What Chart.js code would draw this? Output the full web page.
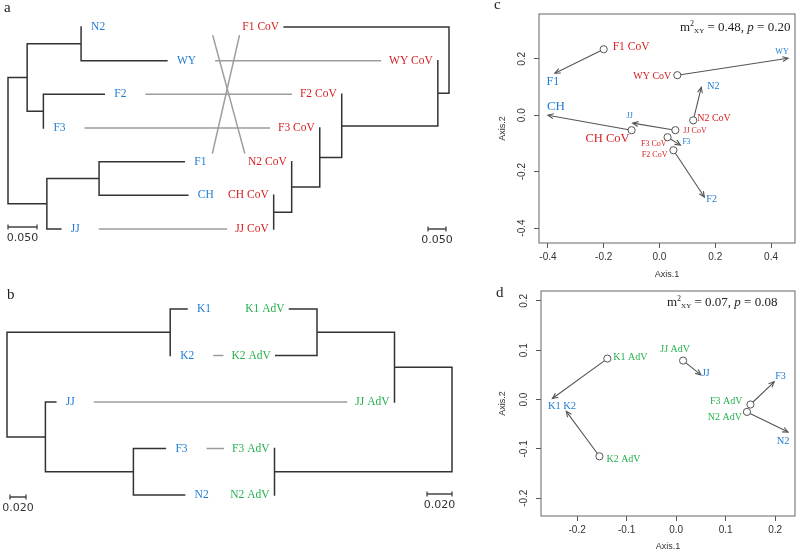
<!DOCTYPE html>
<html>
<head>
<meta charset="utf-8">
<script src="https://cdn.jsdelivr.net/npm/chart.js@4.4.0/dist/chart.umd.min.js"></script>
<style>
  body { margin: 0; background: #fff; width: 800px; height: 553px; position: relative; overflow: hidden; }
  canvas { position: absolute; }
</style>
</head>
<body>
<canvas id="panelA" width="490" height="270" style="left:0;top:0"></canvas>
<canvas id="panelB" width="490" height="283" style="left:0;top:270px"></canvas>
<canvas id="panelC" width="310" height="282" style="left:490px;top:0"></canvas>
<canvas id="panelD" width="310" height="271" style="left:490px;top:282px"></canvas>
<script>
// ---------- data ----------
// panel a: host tree (left) and CoV tree (right), edges = [parent, child, branch length]
const tipsA1 = ['N2', 'WY', 'F2', 'F3', 'F1', 'CH', 'JJ'];
const edgesA1 = [
  ['r', 'a', 0.033], ['a', 'nw', 0.093], ['nw', 'N2', 0], ['nw', 'WY', 0.148],
  ['a', 'ff', 0.028], ['ff', 'F2', 0.105], ['ff', 'F3', 0],
  ['r', 'b', 0.067], ['b', 'fc', 0.090], ['fc', 'F1', 0.147], ['fc', 'CH', 0.153], ['b', 'JJ', 0.024]
];
const tipsA2 = ['F1 CoV', 'WY CoV', 'F2 CoV', 'F3 CoV', 'N2 CoV', 'CH CoV', 'JJ CoV'];
const edgesA2 = [
  ['r', 'F1 CoV', 0.458], ['r', 'w', 0.031], ['w', 'WY CoV', 0], ['w', 'p', 0.267],
  ['p', 'F2 CoV', 0], ['p', 'q', 0.061], ['q', 'F3 CoV', 0], ['q', 's', 0.078],
  ['s', 'N2 CoV', 0], ['s', 't', 0.050], ['t', 'CH CoV', 0], ['t', 'JJ CoV', 0]
];
const linksA = [['N2', 'N2 CoV'], ['WY', 'WY CoV'], ['F2', 'F2 CoV'], ['F3', 'F3 CoV'],
  ['F1', 'F1 CoV'], ['CH', 'CH CoV'], ['JJ', 'JJ CoV']];
const scaleBarA = 0.05;

// panel b: host tree and AdV tree
const tipsB1 = ['K1', 'K2', 'JJ', 'F3', 'N2'];
const edgesB1 = [
  ['r', 'k', 0.204], ['k', 'K1', 0.021], ['k', 'K2', 0],
  ['r', 'b', 0.048], ['b', 'JJ', 0.013], ['b', 'fn', 0.110], ['fn', 'F3', 0.040], ['fn', 'N2', 0.064]
];
const tipsB2 = ['K1 AdV', 'K2 AdV', 'JJ AdV', 'F3 AdV', 'N2 AdV'];
const edgesB2 = [
  ['r', 'kj', 0.046], ['kj', 'k', 0.062], ['k', 'K1 AdV', 0.022], ['k', 'K2 AdV', 0.033],
  ['kj', 'JJ AdV', 0], ['r', 'fn', 0.142], ['fn', 'F3 AdV', 0], ['fn', 'N2 AdV', 0]
];
const linksB = [['K1', 'K1 AdV'], ['K2', 'K2 AdV'], ['JJ', 'JJ AdV'], ['F3', 'F3 AdV'], ['N2', 'N2 AdV']];
const scaleBarB = 0.02;

// panel c: Procrustes, CoV (circles) -> host (arrow heads)
const hostsC = ['F1', 'WY', 'N2', 'CH', 'JJ', 'F3', 'F2'];
const virusesC = ['F1 CoV', 'WY CoV', 'N2 CoV', 'CH CoV', 'JJ CoV', 'F3 CoV', 'F2 CoV'];
const virusXC = [-0.200, 0.064, 0.121, -0.100, 0.057, 0.029, 0.050];
const virusYC = [0.234, 0.142, -0.018, -0.053, -0.053, -0.078, -0.124];
const hostXC = [-0.375, 0.461, 0.150, -0.400, -0.096, 0.075, 0.161];
const hostYC = [0.149, 0.202, 0.099, 0.000, -0.028, -0.106, -0.290];
const xTicksC = [-0.4, -0.2, 0, 0.2, 0.4];
const yTicksC = [-0.4, -0.2, 0, 0.2];
const statC = [0.48, 0.20];

// panel d: Procrustes, AdV (circles) -> host
const hostsD = ['K1', 'K2', 'JJ', 'F3', 'N2'];
const virusesD = ['K1 AdV', 'K2 AdV', 'JJ AdV', 'F3 AdV', 'N2 AdV'];
const virusXD = [-0.139, -0.155, 0.014, 0.150, 0.143];
const virusYD = [0.083, -0.115, 0.079, -0.010, -0.025];
const hostXD = [-0.250, -0.222, 0.050, 0.198, 0.226];
const hostYD = [0.002, -0.024, 0.050, 0.036, -0.066];
const xTicksD = [-0.2, -0.1, 0, 0.1, 0.2];
const yTicksD = [-0.2, -0.1, 0, 0.1, 0.2];
const statD = [0.07, 0.08];

// ---------- styles ----------
const BLUE = '#1f7bd2', RED = '#d61f1f', GREEN = '#25b04e';
const SERIF = '"Liberation Serif", serif';
Chart.defaults.font.family = '"Liberation Sans", sans-serif';

// label placement [align, dx, dy, size]
const virusLblC = [['l', 9, -2, 11.5], ['r', -6, 1, 10], ['l', 4, -2, 10], ['r', -2, 9, 12.5],
  ['l', 8, 1, 8], ['r', -1, 7, 8], ['r', -6, 5, 8]];
const hostLblC = [['c', -2, 9, 12], ['c', -6, -6, 8], ['l', 6, -1, 10], ['l', -1, -9, 13],
  ['c', -3, -7, 8], ['l', 2, -3, 7.5], ['l', 2, 2, 10]];
const virusLblD = [['l', 6, -1, 10], ['l', 7, 3, 10], ['c', -8, -11, 10], ['r', -8, -3, 10], ['r', -5, 5, 10]];
const hostLblD = [['c', 2, 8, 10.5], ['l', -3, -5, 10.5], ['l', 1, -2, 10], ['l', 1, -5, 10], ['c', -5, 9, 10.5]];

// ---------- tree helpers ----------
function layoutTree(edges, tips) {
  const kids = {}, len = {}, hasParent = {};
  edges.forEach(e => {
    (kids[e[0]] = kids[e[0]] || []).push(e[1]);
    len[e[1]] = e[2];
    hasParent[e[1]] = true;
  });
  const root = edges.find(e => !hasParent[e[0]])[0];
  const x = {}, y = {};
  (function walk(n, d) {
    x[n] = d;
    if (kids[n]) {
      kids[n].forEach(c => walk(c, d + len[c]));
      y[n] = kids[n].reduce((s, c) => s + y[c], 0) / kids[n].length;
    } else {
      y[n] = tips.indexOf(n);
    }
  })(root, 0);
  const segs = [];
  Object.keys(kids).forEach(n => {
    const ys = kids[n].map(c => y[c]);
    segs.push({x: x[n], y: Math.min(...ys)}, {x: x[n], y: Math.max(...ys)}, {x: x[n], y: null});
    kids[n].forEach(c => segs.push({x: x[n], y: y[c]}, {x: x[c], y: y[c]}, {x: x[c], y: null}));
  });
  return {tips, x, y, segs};
}

// pixel mapping of a hidden axis: where the root sits and how many px per unit
function axisRange(rootPx, pxPerUnit, sizePx, reverse) {
  if (reverse) return {min: (rootPx - sizePx) / pxPerUnit, max: rootPx / pxPerUnit, reverse: true};
  return {min: -rootPx / pxPerUnit, max: (sizePx - rootPx) / pxPerUnit};
}

function scaleBar(ctx, x1, x2, y, label) {
  ctx.strokeStyle = '#444';
  ctx.lineWidth = 1.3;
  ctx.beginPath();
  ctx.moveTo(x1, y); ctx.lineTo(x2, y);
  ctx.moveTo(x1, y - 2.5); ctx.lineTo(x1, y + 2.5);
  ctx.moveTo(x2, y - 2.5); ctx.lineTo(x2, y + 2.5);
  ctx.stroke();
  ctx.fillStyle = '#333';
  ctx.font = '11px "DejaVu Sans"';
  ctx.textAlign = 'center';
  ctx.textBaseline = 'middle';
  ctx.fillText(label, (x1 + x2) / 2, y + 11);
}

function letter(ctx, t, x, y) {
  ctx.fillStyle = '#222';
  ctx.font = '15px ' + SERIF;
  ctx.textAlign = 'left';
  ctx.textBaseline = 'middle';
  ctx.fillText(t, x, y);
}

const treePlugin = {
  id: 'tree',
  afterDatasetsDraw(chart, args, o) {
    const ctx = chart.ctx, sy = chart.scales.y, sl = chart.scales.xl, sr = chart.scales.xr;
    ctx.save();
    ctx.font = '11.5px ' + SERIF;
    ctx.textBaseline = 'middle';
    const lEnd = {}, rStart = {};
    o.left.tips.forEach((t, i) => {
      const px = sl.getPixelForValue(o.left.x[t]) + 10, py = sy.getPixelForValue(i);
      ctx.fillStyle = o.leftColor;
      ctx.textAlign = 'left';
      ctx.fillText(t, px, py);
      lEnd[t] = [px + ctx.measureText(t).width, py, i];
    });
    o.right.tips.forEach((t, i) => {
      const px = sr.getPixelForValue(o.right.x[t]) - 5, py = sy.getPixelForValue(i);
      ctx.fillStyle = o.rightColor;
      ctx.textAlign = 'right';
      ctx.fillText(t, px, py);
      rStart[t] = [px - ctx.measureText(t).width, py, i];
    });

    ctx.strokeStyle = '#9c9c9c';
    ctx.lineWidth = 1.5;
    o.links.forEach(([a, b]) => {
      const L = lEnd[a], R = rStart[b];
      let x1, x2, y1 = L[1], y2 = R[1];
      if (L[2] === R[2]) {
        x1 = L[0] + 19; x2 = R[0] - 8;
        if (x2 - x1 < 8) return;
      } else {
        const lo = Math.min(L[2], R[2]), hi = Math.max(L[2], R[2]);
        const s = Math.max(...o.left.tips.slice(lo, hi + 1).map(t => lEnd[t][0])) + 4;
        const e = R[0] - 1, f = 0.06, dx = e - s, dy = y2 - y1;
        x1 = s + f * dx; x2 = e - f * dx;
        const ya = y1 + f * dy; y2 = y2 - f * dy; y1 = ya;
      }
      ctx.beginPath();
      ctx.moveTo(x1, y1);
      ctx.lineTo(x2, y2);
      ctx.stroke();
    });

    const lastL = sy.getPixelForValue(o.left.tips.length - 1);
    const bl = o.barL, br = o.barR;
    scaleBar(ctx, sl.getPixelForValue(0) + bl[0], sl.getPixelForValue(o.bar) + bl[0], lastL + bl[1], o.bar.toFixed(3));
    scaleBar(ctx, sr.getPixelForValue(o.bar) + br[0], sr.getPixelForValue(0) + br[0], lastL + br[1], o.bar.toFixed(3));
    letter(ctx, o.letter[0], o.letter[1], o.letter[2]);
    ctx.restore();
  }
};

function treeChart(id, left, right, ranges, opts) {
  const line = {showLine: true, pointRadius: 0, borderColor: '#333', borderWidth: 1.5,
    borderCapStyle: 'square', tension: 0, spanGaps: false, yAxisID: 'y'};
  return new Chart(document.getElementById(id), {
    type: 'scatter',
    data: {datasets: [
      Object.assign({data: left.segs, xAxisID: 'xl'}, line),
      Object.assign({data: right.segs, xAxisID: 'xr'}, line)
    ]},
    options: {
      responsive: false, animation: false, events: [],
      layout: {padding: 0},
      plugins: {legend: {display: false}, tooltip: {enabled: false}, tree: Object.assign({left, right}, opts)},
      scales: {
        xl: Object.assign({type: 'linear', display: false}, ranges.xl),
        xr: Object.assign({type: 'linear', display: false}, ranges.xr),
        y: Object.assign({type: 'linear', display: false}, ranges.y)
      }
    },
    plugins: [treePlugin]
  });
}

// ---------- panel a ----------
treeChart('panelA', layoutTree(edgesA1, tipsA1), layoutTree(edgesA2, tipsA2), {
  xl: axisRange(8, 580, 490, false),
  xr: axisRange(449, 360, 490, true),
  y: {min: -27 / 33.67, max: (270 - 27) / 33.67, reverse: true}
}, {links: linksA, leftColor: BLUE, rightColor: RED, bar: scaleBarA,
    barL: [0, -2], barR: [-3, 0], letter: ['a', 4, 8]});

// ---------- panel b ----------
treeChart('panelB', layoutTree(edgesB1, tipsB1), layoutTree(edgesB2, tipsB2), {
  xl: axisRange(7, 800, 490, false),
  xr: axisRange(452, 1250, 490, true),
  y: {min: -39 / 46.5, max: (283 - 39) / 46.5, reverse: true}
}, {links: linksB, leftColor: BLUE, rightColor: GREEN, bar: scaleBarB,
    barL: [3, 2], barR: [0, -1], letter: ['b', 7, 25]});

// ---------- ordination panels ----------
function drawLabel(ctx, text, px, py, place, color) {
  ctx.font = place[3] + 'px ' + SERIF;
  ctx.textAlign = place[0] === 'l' ? 'left' : place[0] === 'r' ? 'right' : 'center';
  ctx.textBaseline = 'middle';
  ctx.fillStyle = color;
  ctx.fillText(text, px + place[1], py + place[2]);
}

function statText(ctx, x, y, vals) {
  const big = '13px ' + SERIF;
  const parts = [
    ['m', big, 0], ['2', '8px ' + SERIF, -4], ['XY', '7px ' + SERIF, 3],
    [' = ' + vals[0].toFixed(2) + ', ', big, 0], ['p', 'italic ' + big, 0], [' = ' + vals[1].toFixed(2), big, 0]
  ];
  ctx.fillStyle = '#222';
  ctx.textAlign = 'left';
  ctx.textBaseline = 'middle';
  parts.forEach(([t, f, dy]) => {
    ctx.font = f;
    ctx.fillText(t, x, y + dy);
    x += ctx.measureText(t).width;
  });
}

const ordPlugin = {
  id: 'ord',
  afterDatasetsDraw(chart, args, o) {
    const ctx = chart.ctx, ca = chart.chartArea, sx = chart.scales.x, sy = chart.scales.y;
    ctx.save();
    ctx.strokeStyle = '#666';
    ctx.lineWidth = 1;
    ctx.strokeRect(ca.left, ca.top, ca.right - ca.left, ca.bottom - ca.top);
    o.hx.forEach((_, i) => {
      const hx = sx.getPixelForValue(o.hx[i]), hy = sy.getPixelForValue(o.hy[i]);
      const vx = sx.getPixelForValue(o.vx[i]), vy = sy.getPixelForValue(o.vy[i]);
      const a = Math.atan2(hy - vy, hx - vx), L = 6, w = 0.42;
      ctx.strokeStyle = '#555';
      ctx.lineWidth = 1.1;
      ctx.beginPath();
      ctx.moveTo(hx - L * Math.cos(a - w), hy - L * Math.sin(a - w));
      ctx.lineTo(hx, hy);
      ctx.lineTo(hx - L * Math.cos(a + w), hy - L * Math.sin(a + w));
      ctx.stroke();
      drawLabel(ctx, o.hosts[i], hx, hy, o.hostLbl[i], BLUE);
      drawLabel(ctx, o.viruses[i], vx, vy, o.virusLbl[i], o.virusColor);
    });
    statText(ctx, o.stat[0], o.stat[1], o.statVals);
    letter(ctx, o.letter[0], o.letter[1], o.letter[2]);
    ctx.restore();
  }
};

function ordChart(id, d) {
  const pts = d.vx.map((x, i) => ({x, y: d.vy[i]}));
  const arrows = [];
  d.vx.forEach((x, i) => arrows.push({x, y: d.vy[i]}, {x: d.hx[i], y: d.hy[i]}, {x: d.hx[i], y: null}));
  const tickFont = {family: '"Liberation Sans"', size: 10};
  const titleFont = {family: '"Liberation Sans"', size: 9};
  const grid = {drawOnChartArea: false, drawTicks: true, tickLength: 5, color: '#555'};
  return new Chart(document.getElementById(id), {
    type: 'scatter',
    data: {datasets: [
      {data: pts, pointRadius: 3.6, pointBackgroundColor: '#fff', pointBorderColor: '#555', pointBorderWidth: 1},
      {data: arrows, showLine: true, spanGaps: false, pointRadius: 0, borderColor: '#555', borderWidth: 1.1}
    ]},
    options: {
      responsive: false, animation: false, events: [],
      layout: {padding: d.pad},
      plugins: {legend: {display: false}, tooltip: {enabled: false}, ord: d},
      scales: {
        x: {
          type: 'linear', min: d.xr[0], max: d.xr[1],
          afterBuildTicks: s => { s.ticks = d.xTicks.map(v => ({value: v})); },
          ticks: {callback: v => v.toFixed(1), font: tickFont, color: '#333', padding: 3, maxRotation: 0},
          grid, border: {display: false},
          title: {display: true, text: 'Axis.1', font: titleFont, color: '#333', padding: {top: 0, bottom: d.titleX}},
          afterFit: s => { s.height = d.xh; }
        },
        y: {
          type: 'linear', min: d.yr[0], max: d.yr[1],
          afterBuildTicks: s => { s.ticks = d.yTicks.map(v => ({value: v})); },
          ticks: {callback: v => v.toFixed(1), font: tickFont, color: '#333', padding: 3,
                  minRotation: 90, maxRotation: 90, crossAlign: 'center'},
          grid, border: {display: false},
          title: {display: true, text: 'Axis.2', font: titleFont, color: '#333', padding: {top: 7.5, bottom: 0}},
          afterFit: s => { s.width = d.yw; }
        }
      }
    },
    plugins: [ordPlugin]
  });
}

ordChart('panelC', {
  hosts: hostsC, viruses: virusesC, vx: virusXC, vy: virusYC, hx: hostXC, hy: hostYC,
  xTicks: xTicksC, yTicks: yTicksC, statVals: statC,
  hostLbl: hostLblC, virusLbl: virusLblC, virusColor: RED,
  xr: [-0.432, 0.486], yr: [-0.453, 0.359],
  pad: {top: 14, right: 3, left: 0, bottom: 0}, yw: 49, xh: 39, titleX: 1.6,
  stat: [190, 28], letter: ['c', 4, 5]
});

ordChart('panelD', {
  hosts: hostsD, viruses: virusesD, vx: virusXD, vy: virusYD, hx: hostXD, hy: hostYD,
  xTicks: xTicksD, yTicks: yTicksD, statVals: statD,
  hostLbl: hostLblD, virusLbl: virusLblD, virusColor: GREEN,
  xr: [-0.273, 0.240], yr: [-0.236, 0.220],
  pad: {top: 8, right: 5, left: 0, bottom: 0}, yw: 51, xh: 37, titleX: 0.6,
  stat: [177, 21], letter: ['d', 6, 11]
});
</script>
</body>
</html>
